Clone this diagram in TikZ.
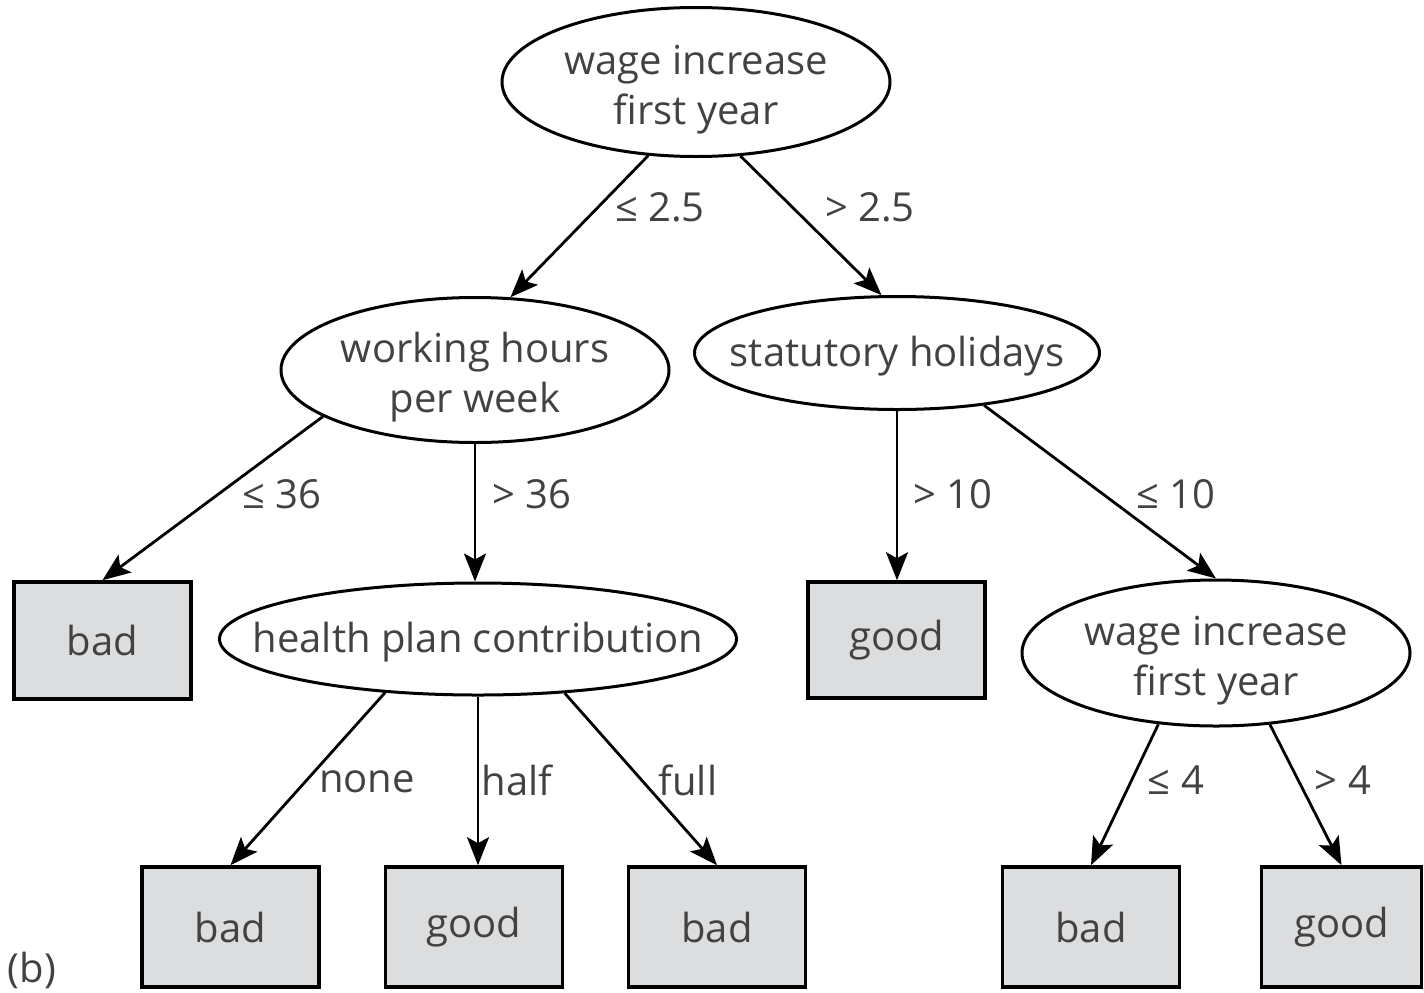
\documentclass[tikz,border=0pt]{standalone}
\usepackage{fontspec}
\setmainfont{Open Sans}
\usepackage{tikz}
\usetikzlibrary{shapes.geometric}
\usetikzlibrary{arrows.meta}

\definecolor{leafgray}{RGB}{220,221,223}
\definecolor{inkgray}{RGB}{66,66,66}

% text that does not widen its ellipse
\newcommand{\ctext}[2][-1.5pt]{\raisebox{#1}[\height][\depth]{\makebox[0pt]{\begin{tabular}{@{}c@{}}#2\end{tabular}}}}

\begin{document}
\begin{tikzpicture}[x=0.5pt,y=0.5pt,yscale=-1,xscale=1,
  every node/.style={font=\fontsize{20}{25}\selectfont,text=inkgray},
  test/.style={draw=black,line width=1.5pt,ellipse,inner sep=0pt},
  leaf/.style={draw=black,line width=1.8pt,fill=leafgray,rectangle,inner sep=0pt,minimum width=88.5pt},
  edge/.style={line width=1.4pt,-{Stealth[length=14pt,width=11pt,inset=3pt]}},
  cond/.style={inner sep=0.75pt}]
\path[use as bounding box] (0,0) rectangle (1424,992);

% Test Nodes
\node[test,minimum width=194pt,minimum height=74.5pt] (root) at (696,82) {\ctext[-3.5pt]{wage increase\\first year}};
\node[test,minimum width=194pt,minimum height=72.5pt] (wh) at (475,370) {\ctext[-3.5pt]{working hours\\per week}};
\node[test,minimum width=202.5pt,minimum height=56.5pt] (sh) at (897,353) {\ctext{statutory holidays}};
\node[test,minimum width=258.5pt,minimum height=56pt] (hp) at (478,639) {\ctext{health plan contribution}};
\node[test,minimum width=194pt,minimum height=73pt] (wi) at (1216,653) {\ctext[-3.5pt]{wage increase\\first year}};

% Leaf Nodes
\node[leaf,minimum height=58.5pt] (bad1) at (102.5,640.5) {bad};
\node[leaf,minimum height=58pt] (good1) at (896.5,640) {good};
\node[leaf,minimum height=60pt] (bad2) at (230.5,927) {bad};
\node[leaf,minimum height=60pt] (good2) at (474,927) {good};
\node[leaf,minimum height=60pt] (bad3) at (717,927) {bad};
\node[leaf,minimum height=60pt] (bad4) at (1091,927) {bad};
\node[leaf,minimum height=60pt,minimum width=80pt] (good4) at (1341.5,927) {good};

% Branches
\draw[edge] (root.237) -- (wh.64);
\draw[edge] (root.301) -- (sh.105);
\draw[edge] (wh.197) -- (bad1.north);
\draw[edge] (wh.south) -- (wh.south |- hp.north);
\draw[edge] (sh.south) -- (sh.south |- good1.north);
\draw[edge] (sh.329) -- (wi.north);
\draw[edge] (hp.210) -- (bad2.north);
\draw[edge] (hp.south) -- (hp.south |- good2.north);
\draw[edge] (hp.328) -- (bad3.north);
\draw[edge] (wi.231) -- (bad4.north);
\draw[edge] (wi.307) -- (good4.north);

% Text Node
\node[cond] (c1) at (660,207) {≤ 2.5};
\node[cond] (c2) at (870,207) {> 2.5};
\node[cond] (c3) at (282,494) {≤ 36};
\node[cond] (c4) at (532,494) {> 36};
\node[cond] (c5) at (953,494) {> 10};
\node[cond] (c6) at (1176,494) {≤ 10};
\node[cond] (c7) at (367,782) {none};
\node[cond] (c8) at (517,780) {half};
\node[cond] (c9) at (688,780) {full};
\node[cond] (c10) at (1176,780) {≤ 4};
\node[cond] (c11) at (1343,780) {> 4};
% Text Node
\node[cond] (tag) at (32,970) {(b)};

\end{tikzpicture}
\end{document}
